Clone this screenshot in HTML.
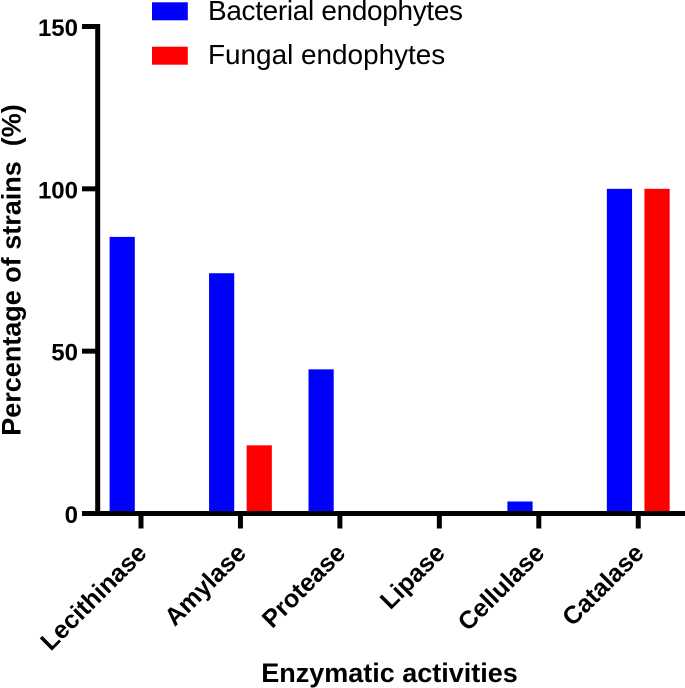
<!DOCTYPE html>
<html>
<head>
<meta charset="utf-8">
<style>
html,body{margin:0;padding:0;background:#fff;width:685px;height:688px;overflow:hidden}
svg{display:block}
text{font-family:"Liberation Sans",Arial,sans-serif;fill:#000}
</style>
</head>
<body>
<svg id="chart" width="685" height="688" viewBox="0 0 685 688" xmlns="http://www.w3.org/2000/svg"></svg>
<script>
const categories = ["Lecithinase","Amylase","Protease","Lipase","Cellulase","Catalase"];
const bacterial = [85.2,74,44.4,0,3.7,100];
const fungal = [0,21,0,0,0,100];
const yTicks = [0,50,100,150];
const xTitle = "Enzymatic activities";
const yTitle = "Percentage of strains  (%)";
const legendLabels = ["Bacterial endophytes","Fungal endophytes"];

const svg = document.getElementById('chart');
const NS = 'http://www.w3.org/2000/svg';
function make(tag, attrs, text){
  const e = document.createElementNS(NS, tag);
  for (const k in attrs) e.setAttribute(k, attrs[k]);
  if (text !== undefined) e.textContent = text;
  svg.appendChild(e);
  return e;
}
const y0 = 513.5, y150 = 26.5;
const yScale = v => y0 - (v / 150) * (y0 - y150);
const xCenter = i => 141 + i * 99.45;
const barW = 25.2, barOffset = 18.8;
const axisX = 97.7;

// bars
categories.forEach((c, i) => {
  if (bacterial[i] > 0) {
    const top = yScale(bacterial[i]);
    const r = make('rect', {x: xCenter(i) - barOffset - barW/2, y: top, width: barW, height: y0 - top, fill: '#0000ff'});
    
    
  }
  if (fungal[i] > 0) {
    const top = yScale(fungal[i]);
    const r = make('rect', {x: xCenter(i) + barOffset - barW/2, y: top, width: barW, height: y0 - top, fill: '#ff0000'});
    
    
  }
});

// y axis
const yAxis = make('line', {x1: axisX, y1: y150 - 2.5, x2: axisX, y2: y0 + 2.5, stroke: '#000', 'stroke-width': 5});


yTicks.forEach(t => {
  const y = yScale(t);
  const tick = make('line', {x1: 82, y1: y, x2: axisX, y2: y, stroke: '#000', 'stroke-width': 5});
  
  
  const label = make('text', {x: 78, y: y + 9.5, 'text-anchor': 'end', 'font-size': 24, 'font-weight': 'bold'}, String(t));
  
  
});

// x axis
const xAxis = make('line', {x1: 82, y1: y0, x2: 685, y2: y0, stroke: '#000', 'stroke-width': 5});


categories.forEach((c, i) => {
  const x = xCenter(i);
  const tick = make('line', {x1: x, y1: y0, x2: x, y2: 528.5, stroke: '#000', 'stroke-width': 5});
  
  
  const label = make('text', {x: x + 7, y: 554.5, 'text-anchor': 'end', 'font-size': 25, 'font-weight': 'bold', transform: 'rotate(-45 ' + (x + 7) + ' 554.5)'}, c);
  
  
});

// axis titles
const xt = make('text', {x: 389.5, y: 682, 'text-anchor': 'middle', 'font-size': 27, 'font-weight': 'bold'}, xTitle);


const yt = make('text', {x: 20.5, y: 270, 'text-anchor': 'middle', 'font-size': 27, 'font-weight': 'bold', transform: 'rotate(-90 20.5 270)', 'xml:space': 'preserve', style: 'white-space:pre'}, yTitle);



// legend
const swB = make('rect', {x: 152, y: 2.3, width: 35.8, height: 18, fill: '#0000ff'});


const lgB = make('text', {x: 208, y: 20, 'font-size': 27.9, textLength: 255, lengthAdjust: 'spacing'}, legendLabels[0]);


const swF = make('rect', {x: 152, y: 46.7, width: 35.8, height: 18, fill: '#ff0000'});


const lgF = make('text', {x: 208, y: 64, 'font-size': 27.9}, legendLabels[1]);


</script>
</body>
</html>
